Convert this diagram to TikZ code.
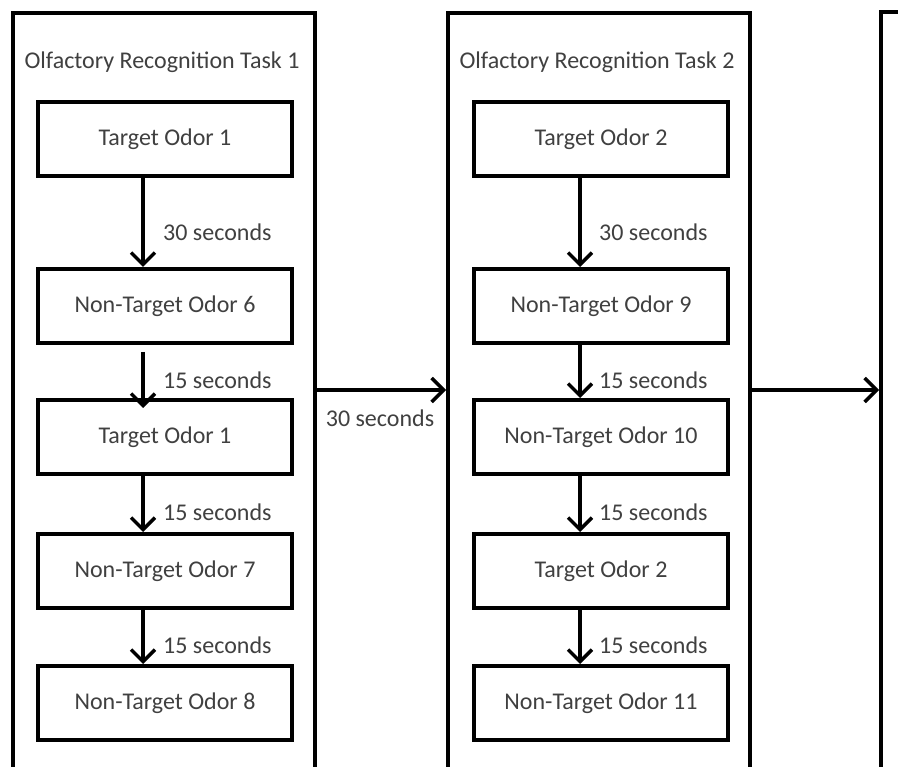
\documentclass[tikz,border=0pt]{standalone}
\usepackage{fontspec}
\setmainfont{Carlito}
\usetikzlibrary{arrows.meta, positioning}
\definecolor{labelgray}{HTML}{404040}

\begin{document}
\begin{tikzpicture}[x=1pt, y=-1pt,
    frame/.style={draw, line width=4pt, minimum width=302pt, minimum height=800pt, anchor=north west, inner sep=0pt},
    odor/.style={draw, line width=4pt, minimum width=254pt, minimum height=74pt, text=labelgray, font=\fontsize{24}{28}\selectfont},
    txt/.style={text=labelgray, inner sep=0pt, font=\fontsize{24}{28}\selectfont},
    flow/.style={line width=3.5pt, -{Straight Barb[length=12pt, width=24pt, line width=3.5pt]}}]
    \useasboundingbox (0, 0) rectangle (898, 767);
    \clip (0, 0) rectangle (898, 767);
    \fill[white] (0, 0) rectangle (898, 767);

    % the three task frames
    \node[frame] (frame1) at (11, 11) {};
    \node[frame] (frame2) at (446, 11) {};
    \node[frame] (frame3) at (879, 10) {};
    \coordinate (midrow) at (0, 390);

    \node[txt] (title1) at (162, 62) {Olfactory Recognition Task 1};
    \node[txt] (title2) at (597, 62) {Olfactory Recognition Task 2};

    % task 1
    \node[odor] (t1a) at (165, 139) {Target Odor 1};
    \node[odor] (n6) at (165, 306) {Non-Target Odor 6};
    \node[odor] (t1b) at (165, 437) {Target Odor 1};
    \node[odor] (n7) at (165, 571) {Non-Target Odor 7};
    \node[odor] (n8) at (165, 703) {Non-Target Odor 8};

    % task 2
    \node[odor] (t2a) at (601, 139) {Target Odor 2};
    \node[odor] (n9) at (601, 306) {Non-Target Odor 9};
    \node[odor] (n10) at (601, 437) {Non-Target Odor 10};
    \node[odor] (t2b) at (601, 571) {Target Odor 2};
    \node[odor] (n11) at (601, 703) {Non-Target Odor 11};

    \draw[flow] ([xshift=-22pt]t1a.south) -- ([xshift=-22pt]n6.north);
    \draw[flow] ([xshift=-22pt, yshift=-7pt]n6.south) -- ([xshift=-22pt, yshift=-10pt]t1b.north);
    \draw[flow] ([xshift=-22pt]t1b.south) -- ([xshift=-22pt]n7.north);
    \draw[flow] ([xshift=-22pt]n7.south) -- ([xshift=-22pt]n8.north);

    \draw[flow] ([xshift=-21pt]t2a.south) -- ([xshift=-21pt]n9.north);
    \draw[flow] ([xshift=-21pt]n9.south) -- ([xshift=-21pt]n10.north);
    \draw[flow] ([xshift=-21pt]n10.south) -- ([xshift=-21pt]t2b.north);
    \draw[flow] ([xshift=-21pt]t2b.south) -- ([xshift=-21pt]n11.north);

    \node[txt, anchor=west] (d1) at (163, 232) {30 seconds};
    \node[txt, anchor=west] (d2) at (163, 380) {15 seconds};
    \node[txt, anchor=west] (d3) at (163, 512) {15 seconds};
    \node[txt, anchor=west] (d4) at (163, 645) {15 seconds};
    \node[txt, anchor=west] (d5) at (599, 232) {30 seconds};
    \node[txt, anchor=west] (d6) at (599, 380) {15 seconds};
    \node[txt, anchor=west] (d7) at (599, 512) {15 seconds};
    \node[txt, anchor=west] (d8) at (599, 645) {15 seconds};

    % between tasks
    \draw[flow] (frame1.east |- midrow) -- (frame2.west |- midrow);
    \draw[flow] (frame2.east |- midrow) -- (frame3.west |- midrow);
    \node[txt] (gap1) at (380, 418) {30 seconds};
\end{tikzpicture}
\end{document}
